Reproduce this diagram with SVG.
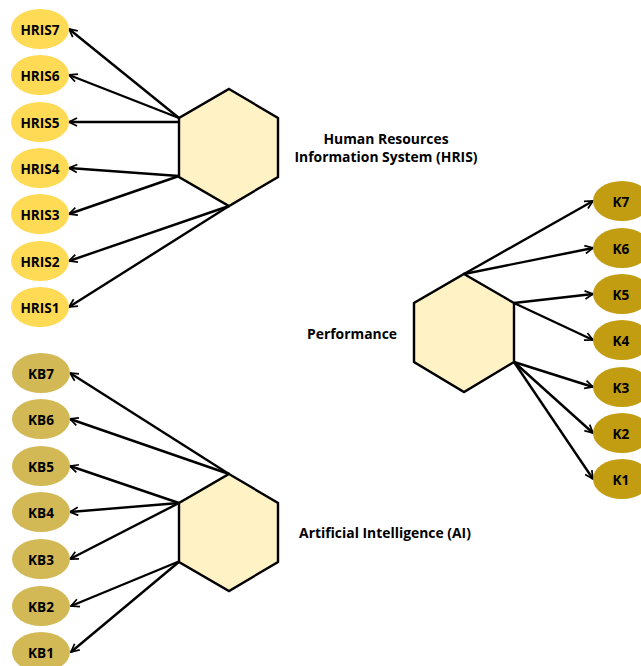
<svg xmlns="http://www.w3.org/2000/svg" width="641" height="666" viewBox="0 0 641 666">
<defs>
<style>
.hex{fill:#FFF2C4;stroke:#000;stroke-width:2.4;stroke-linejoin:miter}
.h{fill:#FFDA55}
.kb{fill:#D3B955}
.k{fill:#C29D12}
.t{font-family:"Open Sans","Noto Sans",sans-serif;font-weight:bold;font-size:13.6px;fill:#000;text-anchor:middle;dominant-baseline:central}
.lbl{font-family:"Open Sans","Noto Sans",sans-serif;font-weight:bold;font-size:13.9px;fill:#000;text-anchor:middle}
.c line{stroke:#000;stroke-width:2.4;marker-end:url(#a)}
</style>
<marker id="a" viewBox="0 0 10 10" refX="9" refY="5" markerWidth="4.2" markerHeight="4.2" orient="auto" markerUnits="strokeWidth">
<path d="M1,1 L9,5 L1,9" fill="none" stroke="#000" stroke-width="1.7"/>
</marker>
</defs>
<rect width="641" height="666" fill="#fff"/>
<g class="c" id="connectors">
<line x1="179" y1="118" x2="69" y2="29"/>
<line x1="179" y1="118" x2="69" y2="75"/>
<line x1="179" y1="122" x2="69" y2="122"/>
<line x1="179" y1="176" x2="69" y2="168"/>
<line x1="179" y1="176" x2="69" y2="214"/>
<line x1="229" y1="206" x2="69" y2="261"/>
<line x1="229" y1="206" x2="69" y2="307"/>
<line x1="464" y1="274" x2="593" y2="201"/>
<line x1="464" y1="274" x2="593" y2="248"/>
<line x1="514" y1="303" x2="593" y2="294"/>
<line x1="514" y1="303" x2="593" y2="340"/>
<line x1="514" y1="362" x2="593" y2="387"/>
<line x1="514" y1="362" x2="593" y2="433"/>
<line x1="514" y1="362" x2="593" y2="479"/>
<line x1="229" y1="474" x2="70" y2="373"/>
<line x1="229" y1="474" x2="70" y2="419"/>
<line x1="179" y1="503" x2="70" y2="466"/>
<line x1="179" y1="503" x2="70" y2="512"/>
<line x1="179" y1="503" x2="70" y2="559"/>
<line x1="180" y1="561" x2="71" y2="606"/>
<line x1="180" y1="561" x2="71" y2="652"/>
</g>
<g id="hris">
<polygon class="hex" points="229,89 278,118 278,177 229,206 179,177 179,118"/>
<text class="lbl" x="386" y="144">Human Resources</text>
<text class="lbl" x="386" y="162">Information System (HRIS)</text>
</g>
<g id="performance">
<polygon class="hex" points="464,274 514,303 514,362 464,392 414,362 414,303"/>
<text class="lbl" x="352" y="339">Performance</text>
</g>
<g id="ai">
<polygon class="hex" points="229,474 278,503 278,562 229,591 179,562 179,503"/>
<text class="lbl" x="385" y="538">Artificial Intelligence (AI)</text>
</g>
<g id="hris7"><ellipse class="h" cx="40" cy="29" rx="29" ry="20"/><text class="t" x="40" y="29">HRIS7</text></g>
<g id="hris6"><ellipse class="h" cx="40" cy="75" rx="29" ry="20"/><text class="t" x="40" y="75">HRIS6</text></g>
<g id="hris5"><ellipse class="h" cx="40" cy="122" rx="29" ry="20"/><text class="t" x="40" y="122">HRIS5</text></g>
<g id="hris4"><ellipse class="h" cx="40" cy="168" rx="29" ry="20"/><text class="t" x="40" y="168">HRIS4</text></g>
<g id="hris3"><ellipse class="h" cx="40" cy="214" rx="29" ry="20"/><text class="t" x="40" y="214">HRIS3</text></g>
<g id="hris2"><ellipse class="h" cx="40" cy="261" rx="29" ry="20"/><text class="t" x="40" y="261">HRIS2</text></g>
<g id="hris1"><ellipse class="h" cx="40" cy="307" rx="29" ry="20"/><text class="t" x="40" y="307">HRIS1</text></g>
<g id="k7"><ellipse class="k" cx="622" cy="201" rx="29" ry="20"/><text class="t" x="621" y="201">K7</text></g>
<g id="k6"><ellipse class="k" cx="622" cy="248" rx="29" ry="20"/><text class="t" x="621" y="248">K6</text></g>
<g id="k5"><ellipse class="k" cx="622" cy="294" rx="29" ry="20"/><text class="t" x="621" y="294">K5</text></g>
<g id="k4"><ellipse class="k" cx="622" cy="340" rx="29" ry="20"/><text class="t" x="621" y="340">K4</text></g>
<g id="k3"><ellipse class="k" cx="622" cy="387" rx="29" ry="20"/><text class="t" x="621" y="387">K3</text></g>
<g id="k2"><ellipse class="k" cx="622" cy="433" rx="29" ry="20"/><text class="t" x="621" y="433">K2</text></g>
<g id="k1"><ellipse class="k" cx="622" cy="479" rx="29" ry="20"/><text class="t" x="621" y="479">K1</text></g>
<g id="kb7"><ellipse class="kb" cx="41" cy="373" rx="29" ry="20"/><text class="t" x="41" y="373">KB7</text></g>
<g id="kb6"><ellipse class="kb" cx="41" cy="419" rx="29" ry="20"/><text class="t" x="41" y="419">KB6</text></g>
<g id="kb5"><ellipse class="kb" cx="41" cy="466" rx="29" ry="20"/><text class="t" x="41" y="466">KB5</text></g>
<g id="kb4"><ellipse class="kb" cx="41" cy="512" rx="29" ry="20"/><text class="t" x="41" y="512">KB4</text></g>
<g id="kb3"><ellipse class="kb" cx="41" cy="559" rx="29" ry="20"/><text class="t" x="41" y="559">KB3</text></g>
<g id="kb2"><ellipse class="kb" cx="41" cy="606" rx="29" ry="20"/><text class="t" x="41" y="606">KB2</text></g>
<g id="kb1"><ellipse class="kb" cx="41" cy="652" rx="29" ry="20"/><text class="t" x="41" y="652">KB1</text></g>
</svg>
